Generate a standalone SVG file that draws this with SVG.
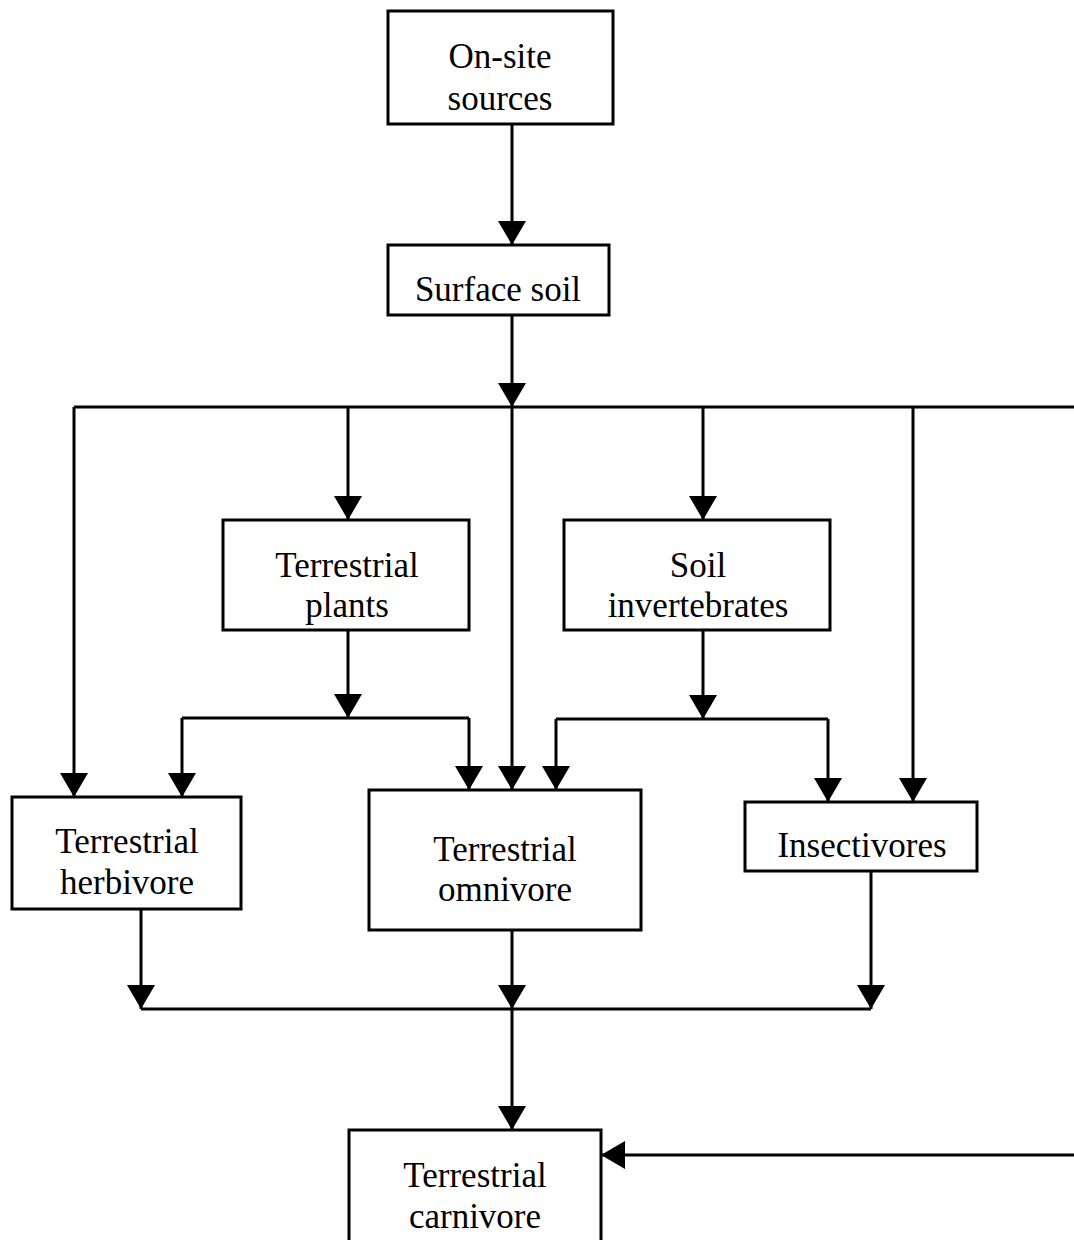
<svg xmlns="http://www.w3.org/2000/svg" width="1074" height="1240" viewBox="0 0 1074 1240">
<style>
.box{fill:#fff;stroke:#000;stroke-width:3}
.lbl{font-family:"Liberation Serif","Times New Roman",serif;font-size:35px;fill:#000;text-anchor:middle}
.ln{fill:none;stroke:#000;stroke-width:3}
.ar{fill:none;stroke:#000;stroke-width:3;marker-end:url(#ah)}
</style>
<defs>
<marker id="ah" viewBox="0 0 24 28" refX="24" refY="14" markerWidth="24" markerHeight="28" markerUnits="userSpaceOnUse" orient="auto">
<path d="M0,0 L24,14 L0,28 z" fill="#000"/>
</marker>
</defs>
<rect width="1074" height="1240" fill="#fff"/>
<g id="connectors">
<path class="ar" d="M512,124 V245"/>
<path class="ar" d="M512,315 V407"/>
<path class="ln" d="M74,407 H1074"/>
<path class="ar" d="M74,407 V797"/>
<path class="ar" d="M348,407 V520"/>
<path class="ar" d="M512,407 V790"/>
<path class="ar" d="M703,407 V520"/>
<path class="ar" d="M913,407 V802"/>
<path class="ar" d="M348,630 V718"/>
<path class="ln" d="M182,718 H469"/>
<path class="ar" d="M182,718 V797"/>
<path class="ar" d="M469,718 V790"/>
<path class="ar" d="M703,630 V719"/>
<path class="ln" d="M556,719 H828"/>
<path class="ar" d="M556,719 V790"/>
<path class="ar" d="M828,719 V802"/>
<path class="ar" d="M141,909 V1009"/>
<path class="ar" d="M512,930 V1009"/>
<path class="ar" d="M871,871 V1009"/>
<path class="ln" d="M141,1009 H871"/>
<path class="ar" d="M512,1009 V1130"/>
<path class="ar" d="M1074,1155 H601"/>
</g>
<g id="onsite">
<rect class="box" x="388" y="11" width="225" height="113"/>
<text class="lbl" x="500" y="68">On-site</text>
<text class="lbl" x="500" y="110">sources</text>
</g>
<g id="surfacesoil">
<rect class="box" x="388" y="245" width="221" height="70"/>
<text class="lbl" x="498" y="301">Surface soil</text>
</g>
<g id="plants">
<rect class="box" x="223" y="520" width="246" height="110"/>
<text class="lbl" x="347" y="577">Terrestrial</text>
<text class="lbl" x="347" y="617">plants</text>
</g>
<g id="soilinvert">
<rect class="box" x="564" y="520" width="266" height="110"/>
<text class="lbl" x="698" y="577">Soil</text>
<text class="lbl" x="698" y="617">invertebrates</text>
</g>
<g id="herbivore">
<rect class="box" x="12" y="797" width="229" height="112"/>
<text class="lbl" x="127" y="853">Terrestrial</text>
<text class="lbl" x="127" y="894">herbivore</text>
</g>
<g id="omnivore">
<rect class="box" x="369" y="790" width="272" height="140"/>
<text class="lbl" x="505" y="861">Terrestrial</text>
<text class="lbl" x="505" y="901">omnivore</text>
</g>
<g id="insectivores">
<rect class="box" x="745" y="802" width="232" height="69"/>
<text class="lbl" x="862" y="857">Insectivores</text>
</g>
<g id="carnivore">
<rect class="box" x="349" y="1130" width="252" height="115"/>
<text class="lbl" x="475" y="1187">Terrestrial</text>
<text class="lbl" x="475" y="1228">carnivore</text>
</g>
</svg>
